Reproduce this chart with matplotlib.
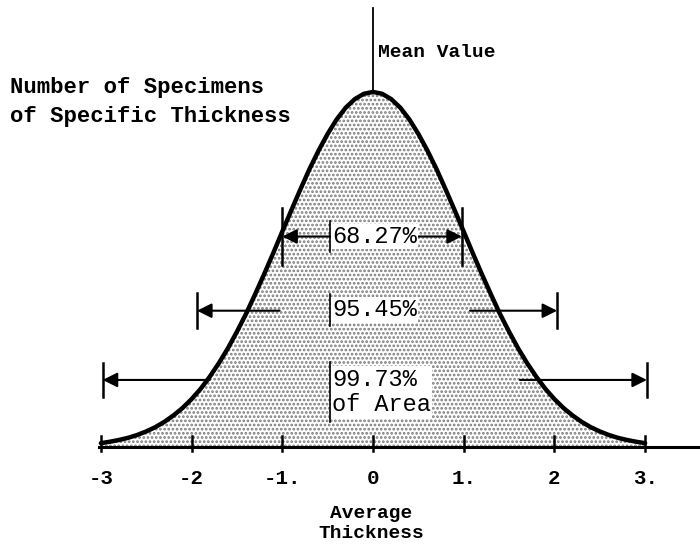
import numpy as np
import matplotlib
matplotlib.use("Agg")
import matplotlib.pyplot as plt

# ---- data ----
sigma = [-3.0, -2.9, -2.8, -2.7, -2.6, -2.5, -2.4, -2.3, -2.2, -2.1, -2.0, -1.9, -1.8, -1.7, -1.6,
         -1.5, -1.4, -1.3, -1.2, -1.1, -1.0, -0.9, -0.8, -0.7, -0.6, -0.5, -0.4, -0.3, -0.2, -0.1,
         0.0, 0.1, 0.2, 0.3, 0.4, 0.5, 0.6, 0.7, 0.8, 0.9, 1.0, 1.1, 1.2, 1.3, 1.4, 1.5, 1.6, 1.7,
         1.8, 1.9, 2.0, 2.1, 2.2, 2.3, 2.4, 2.5, 2.6, 2.7, 2.8, 2.9, 3.0]
half = [0.011, 0.015, 0.020, 0.026, 0.034, 0.044, 0.056, 0.071, 0.089, 0.110, 0.135, 0.164, 0.198,
        0.236, 0.278, 0.325, 0.375, 0.430, 0.487, 0.546, 0.607, 0.667, 0.726, 0.783, 0.835, 0.882,
        0.923, 0.956, 0.980, 0.995]
height = half + [1.000] + half[::-1]
tick_values = [-3, -2, -1, 0, 1, 2, 3]
tick_labels = ["-3", "-2", "-1.", "0", "1.", "2", "3."]
band_labels = ["68.27%", "95.45%", "99.73%\nof Area"]
band_lo = [-1.0, -1.94, -2.98]
band_hi = [0.98, 2.03, 3.02]

FONT = "Liberation Mono"

fig = plt.figure(figsize=(7.0, 5.55), dpi=100)
ax = fig.add_axes([0, 0, 1, 1])
ax.set_xlim(-4.112, 3.605)
ax.set_ylim(-0.304, 1.259)
ax.axis("off")

plt.rcParams["hatch.linewidth"] = 1.3
plt.rcParams["hatch.color"] = "#7a7a7a"
ax.fill_between(sigma, 0, height, facecolor="white", edgecolor="#7a7a7a",
                hatch="....", linewidth=0, zorder=1)
ax.plot(sigma, height, color="black", lw=3.2, solid_capstyle="round",
        solid_joinstyle="round", zorder=4)

# base axis
ax.plot([-3.02, 3.605], [0, 0], color="black", lw=2.2, zorder=5)
for t in tick_values:
    ax.plot([t, t], [-0.01, 0.03], color="black", lw=1.8, zorder=5)
for t, lab in zip(tick_values, tick_labels):
    ax.text(t, -0.088, lab, ha="center", va="center", fontsize=15, fontweight="bold",
            family=FONT)

# mean line
ax.plot([0, 0], [1.0, 1.237], color="black", lw=1.3, zorder=5)
ax.text(0.06, 1.11, "Mean Value", ha="left", va="center", fontsize=14,
        fontweight="bold", family=FONT)

ax.text(-4.0, 0.972, "Number of Specimens\nof Specific Thickness", ha="left", va="center",
        fontsize=16, fontweight="bold", family=FONT, linespacing=1.45)

ax.text(-0.02, -0.215, "Average\nThickness", ha="center", va="center", fontsize=14,
        fontweight="bold", family=FONT, linespacing=1.25)

# bands
levels = [0.593, 0.384, 0.189]
halfbar = [0.08, 0.05, 0.048]
inner_l = [-0.46, -1.03, -1.8]
inner_r = [0.5, 1.07, 1.62]
text_y = [0.593, 0.386, 0.155]
for lab, lo, hi, y, hb, il, ir, ty in zip(band_labels, band_lo, band_hi, levels, halfbar,
                                          inner_l, inner_r, text_y):
    for xb in (lo, hi):
        ax.plot([xb, xb], [y - hb, y + hb], color="black", lw=1.8, zorder=6)
    ax.annotate("", xy=(lo, y), xytext=(il, y),
                arrowprops=dict(arrowstyle="-|>", color="black", lw=1.5,
                                mutation_scale=22, shrinkA=0, shrinkB=0), zorder=6)
    ax.annotate("", xy=(hi, y), xytext=(ir, y),
                arrowprops=dict(arrowstyle="-|>", color="black", lw=1.5,
                                mutation_scale=22, shrinkA=0, shrinkB=0), zorder=6)
    ax.text(-0.45, ty, lab, ha="left", va="center", fontsize=17, family=FONT,
            linespacing=1.15, zorder=7,
            bbox=dict(facecolor="white", edgecolor="none", pad=1))
    hh = 0.045 if "\n" not in lab else 0.085
    ax.plot([-0.47, -0.47], [ty - hh, ty + hh], color="black", lw=1.2, zorder=8)

fig.savefig("out.png", dpi=100)
